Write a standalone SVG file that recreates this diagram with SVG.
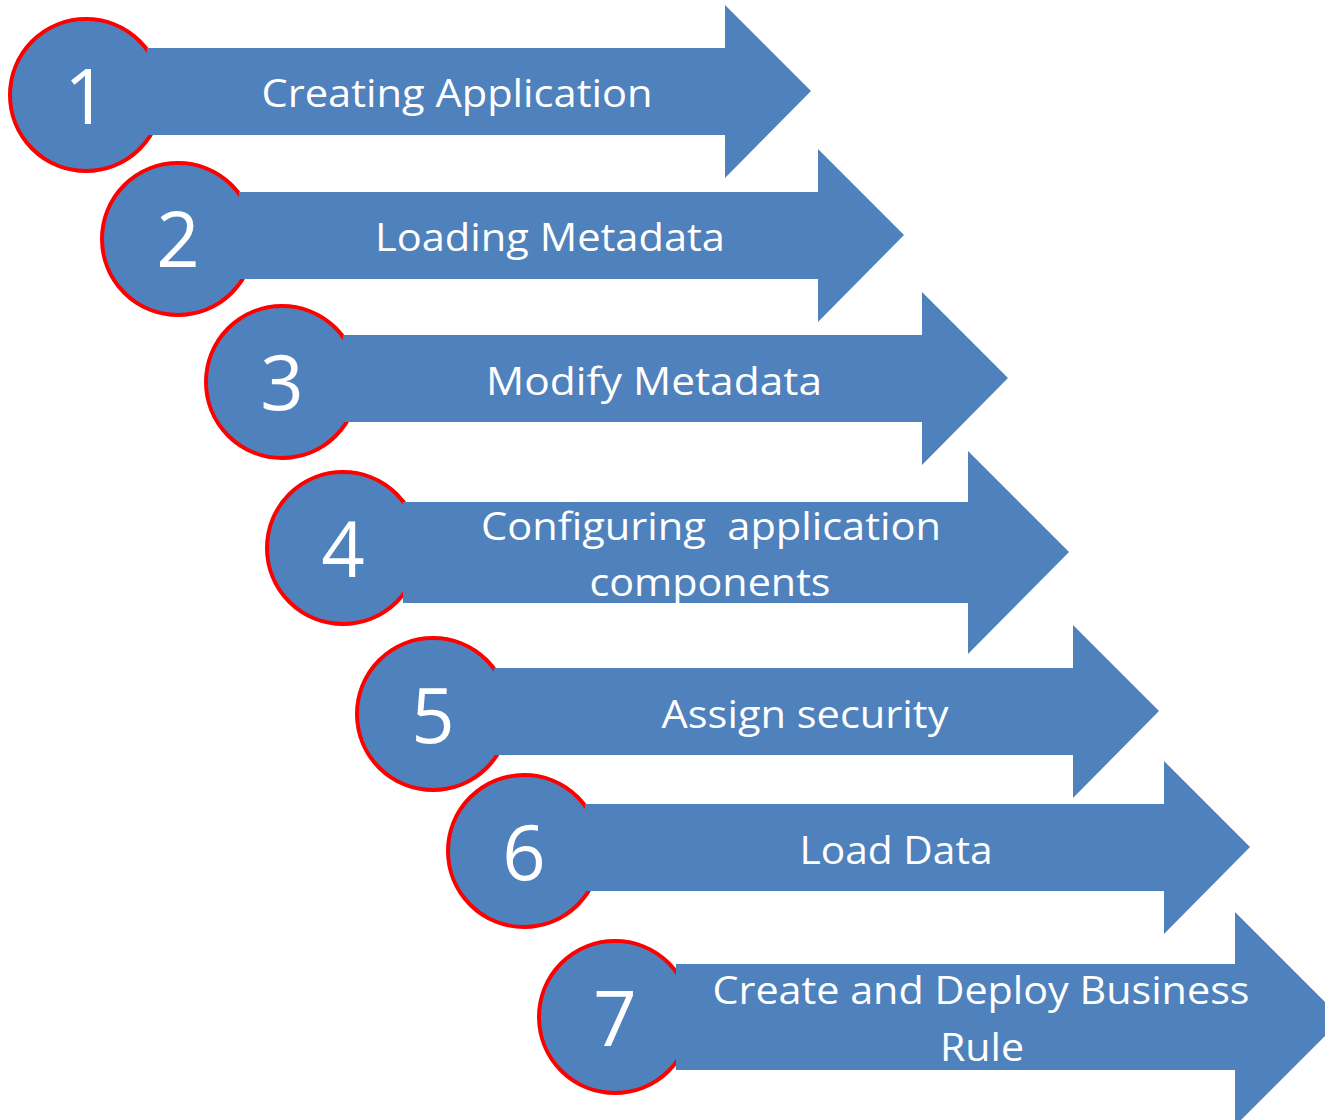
<svg xmlns="http://www.w3.org/2000/svg" width="1325" height="1120" viewBox="0 0 1325 1120">
<style>
.c{fill:#4F81BD;stroke:#FF0000;stroke-width:4}
.a{fill:#4F81BD;stroke:none}
.n{font-family:"Open Sans","Liberation Sans",sans-serif;font-size:76px;fill:#FFFFFF;text-anchor:middle}
.t{font-family:"Open Sans","Liberation Sans",sans-serif;font-size:38px;fill:#FFFFFF;text-anchor:middle}
</style>
<rect width="1325" height="1120" fill="#FFFFFF"/>
<g id="step1">
<circle class="c" cx="86" cy="95" r="76"/>
<polygon class="a" points="147,48 725,48 725,5 811,91 725,178 725,135 147,135"/>
<text class="n" x="86" y="124">1</text>
<text class="t" x="457" y="107" textLength="391" lengthAdjust="spacingAndGlyphs">Creating Application</text>
</g>
<g id="step2">
<circle class="c" cx="178" cy="239" r="76"/>
<polygon class="a" points="239,192 818,192 818,149 904,235 818,322 818,279 239,279"/>
<text class="n" x="178" y="267">2</text>
<text class="t" x="550" y="251" textLength="350" lengthAdjust="spacingAndGlyphs">Loading Metadata</text>
</g>
<g id="step3">
<circle class="c" cx="282" cy="382" r="76"/>
<polygon class="a" points="343,335 922,335 922,292 1008,378 922,465 922,422 343,422"/>
<text class="n" x="282" y="410">3</text>
<text class="t" x="654" y="395" textLength="336" lengthAdjust="spacingAndGlyphs">Modify Metadata</text>
</g>
<g id="step4">
<circle class="c" cx="343" cy="548" r="76"/>
<polygon class="a" points="403,502 968,502 968,451 1069,552 968,654 968,603 403,603"/>
<text class="n" x="343" y="577">4</text>
<text class="t" x="711" y="540" textLength="460" lengthAdjust="spacingAndGlyphs" xml:space="preserve">Configuring  application</text>
<text class="t" x="710" y="596" textLength="241" lengthAdjust="spacingAndGlyphs">components</text>
</g>
<g id="step5">
<circle class="c" cx="433" cy="714" r="76"/>
<polygon class="a" points="494,668 1073,668 1073,625 1159,711 1073,798 1073,755 494,755"/>
<text class="n" x="433" y="743">5</text>
<text class="t" x="805" y="728" textLength="287" lengthAdjust="spacingAndGlyphs">Assign security</text>
</g>
<g id="step6">
<circle class="c" cx="524" cy="851" r="76"/>
<polygon class="a" points="585,804 1164,804 1164,761 1250,847 1164,934 1164,891 585,891"/>
<text class="n" x="524" y="880">6</text>
<text class="t" x="896" y="864" textLength="193" lengthAdjust="spacingAndGlyphs">Load Data</text>
</g>
<g id="step7">
<circle class="c" cx="615" cy="1017" r="76"/>
<polygon class="a" points="676,964 1235,964 1235,912 1325,1002 1325,1036 1241,1120 1235,1120 1235,1070 676,1070"/>
<text class="n" x="615" y="1046">7</text>
<text class="t" x="981" y="1004" textLength="537" lengthAdjust="spacingAndGlyphs">Create and Deploy Business</text>
<text class="t" x="982" y="1061" textLength="84" lengthAdjust="spacingAndGlyphs">Rule</text>
</g>
<g id="connectors"></g>
</svg>
